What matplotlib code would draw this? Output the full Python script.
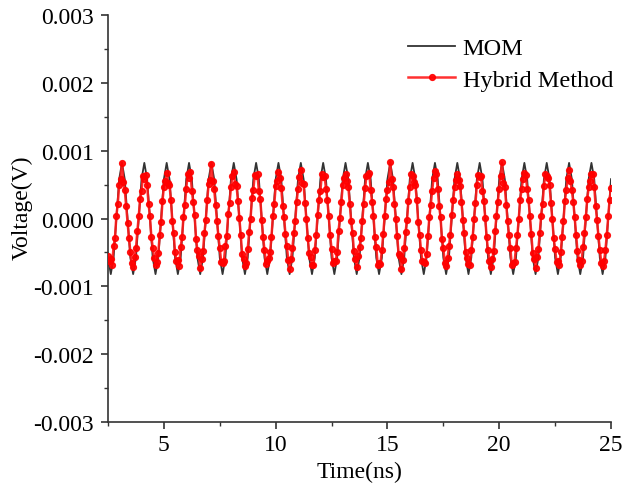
import numpy as np
import matplotlib
matplotlib.use("Agg")
import matplotlib.pyplot as plt
from matplotlib.ticker import MultipleLocator, FormatStrFormatter

plt.rcParams['font.family'] = ['Liberation Serif', 'DejaVu Serif']
plt.rcParams['axes.unicode_minus'] = False

# ---- data ----
# MOM: sampled every 0.125 ns from 2.5 ns to 25 ns (V), one row per ns
mom_v = [
    -5.8e-4, -8.2e-4, -5.8e-4, 0.0, 5.8e-4, 8.2e-4, 5.8e-4, 0.0,   # 2.5
    -5.8e-4, -8.2e-4, -5.8e-4, 0.0, 5.8e-4, 8.2e-4, 5.8e-4, 0.0,   # 3.5
    -5.8e-4, -8.2e-4, -5.8e-4, 0.0, 5.8e-4, 8.2e-4, 5.8e-4, 0.0,   # 4.5
    -5.8e-4, -8.2e-4, -5.8e-4, 0.0, 5.8e-4, 8.2e-4, 5.8e-4, 0.0,   # 5.5
    -5.8e-4, -8.2e-4, -5.8e-4, 0.0, 5.8e-4, 8.2e-4, 5.8e-4, 0.0,   # 6.5
    -5.8e-4, -8.2e-4, -5.8e-4, 0.0, 5.8e-4, 8.2e-4, 5.8e-4, 0.0,   # 7.5
    -5.8e-4, -8.2e-4, -5.8e-4, 0.0, 5.8e-4, 8.2e-4, 5.8e-4, 0.0,   # 8.5
    -5.8e-4, -8.2e-4, -5.8e-4, 0.0, 5.8e-4, 8.2e-4, 5.8e-4, 0.0,   # 9.5
    -5.8e-4, -8.2e-4, -5.8e-4, 0.0, 5.8e-4, 8.2e-4, 5.8e-4, 0.0,   # 10.5
    -5.8e-4, -8.2e-4, -5.8e-4, 0.0, 5.8e-4, 8.2e-4, 5.8e-4, 0.0,   # 11.5
    -5.8e-4, -8.2e-4, -5.8e-4, 0.0, 5.8e-4, 8.2e-4, 5.8e-4, 0.0,   # 12.5
    -5.8e-4, -8.2e-4, -5.8e-4, 0.0, 5.8e-4, 8.2e-4, 5.8e-4, 0.0,   # 13.5
    -5.8e-4, -8.2e-4, -5.8e-4, 0.0, 5.8e-4, 8.2e-4, 5.8e-4, 0.0,   # 14.5
    -5.8e-4, -8.2e-4, -5.8e-4, 0.0, 5.8e-4, 8.2e-4, 5.8e-4, 0.0,   # 15.5
    -5.8e-4, -8.2e-4, -5.8e-4, 0.0, 5.8e-4, 8.2e-4, 5.8e-4, 0.0,   # 16.5
    -5.8e-4, -8.2e-4, -5.8e-4, 0.0, 5.8e-4, 8.2e-4, 5.8e-4, 0.0,   # 17.5
    -5.8e-4, -8.2e-4, -5.8e-4, 0.0, 5.8e-4, 8.2e-4, 5.8e-4, 0.0,   # 18.5
    -5.8e-4, -8.2e-4, -5.8e-4, 0.0, 5.8e-4, 8.2e-4, 5.8e-4, 0.0,   # 19.5
    -5.8e-4, -8.2e-4, -5.8e-4, 0.0, 5.8e-4, 8.2e-4, 5.8e-4, 0.0,   # 20.5
    -5.8e-4, -8.2e-4, -5.8e-4, 0.0, 5.8e-4, 8.2e-4, 5.8e-4, 0.0,   # 21.5
    -5.8e-4, -8.2e-4, -5.8e-4, 0.0, 5.8e-4, 8.2e-4, 5.8e-4, 0.0,   # 22.5
    -5.8e-4, -8.2e-4, -5.8e-4, 0.0, 5.8e-4, 8.2e-4, 5.8e-4, 0.0,   # 23.5
    -5.8e-4, -8.2e-4, -5.8e-4, 0.0, 5.8e-4,                       # 24.5 .. 25.0
]
mom_t = np.arange(2.5, 25.0 + 1e-9, 0.125)

# Hybrid method: sampled every 0.0625 ns from 2.5 ns to 25 ns (V), one row per ns
hyb_v = [
    -5.6e-4, -6.2e-4, -5.9e-4, -6.8e-4, -4.1e-4, -2.9e-4, 0.4e-4, 2.2e-4, 4.9e-4, 5.8e-4, 8.2e-4, 5.4e-4, 4.2e-4, 1.8e-4, -0.6e-4, -2.9e-4,
    -4.9e-4, -6.6e-4, -7.2e-4, -5.7e-4, -4.4e-4, -1.9e-4, 0.3e-4, 2.9e-4, 4.1e-4, 6.3e-4, 5.8e-4, 6.4e-4, 4.9e-4, 2.2e-4, 0.4e-4, -2.7e-4,
    -4.3e-4, -5.8e-4, -6.9e-4, -6.4e-4, -5.1e-4, -2.4e-4, -0.5e-4, 2.6e-4, 4.7e-4, 5.5e-4, 6.7e-4, 5.2e-4, 5.0e-4, 2.8e-4, -0.3e-4, -2.2e-4,
    -5.0e-4, -6.3e-4, -6.1e-4, -7.0e-4, -4.2e-4, -2.8e-4, 0.2e-4, 2.0e-4, 4.4e-4, 6.6e-4, 6.0e-4, 6.9e-4, 4.1e-4, 2.4e-4, 0.5e-4, -3.0e-4,
    -4.7e-4, -5.5e-4, -7.3e-4, -5.9e-4, -4.8e-4, -2.1e-4, -0.2e-4, 2.7e-4, 5.1e-4, 5.7e-4, 8.1e-4, 5.6e-4, 4.3e-4, 2.0e-4, -0.4e-4, -2.6e-4,
    -4.4e-4, -6.4e-4, -6.6e-4, -6.2e-4, -4.0e-4, -2.6e-4, 0.6e-4, 2.3e-4, 4.6e-4, 6.2e-4, 6.9e-4, 5.1e-4, 4.8e-4, 2.6e-4, 0.1e-4, -2.4e-4,
    -5.2e-4, -5.9e-4, -7.0e-4, -6.6e-4, -4.5e-4, -2.0e-4, -0.1e-4, 3.0e-4, 4.2e-4, 6.4e-4, 6.3e-4, 6.5e-4, 4.0e-4, 2.9e-4, -0.2e-4, -2.8e-4,
    -4.6e-4, -6.7e-4, -6.3e-4, -5.8e-4, -5.0e-4, -2.7e-4, 0.3e-4, 2.1e-4, 4.8e-4, 5.6e-4, 6.8e-4, 5.9e-4, 4.5e-4, 1.9e-4, 0.2e-4, -2.3e-4,
    -4.1e-4, -6.1e-4, -7.4e-4, -6.0e-4, -4.3e-4, -2.2e-4, -0.4e-4, 2.5e-4, 4.3e-4, 6.1e-4, 7.2e-4, 5.3e-4, 5.1e-4, 2.3e-4, -0.1e-4, -2.9e-4,
    -5.1e-4, -5.7e-4, -6.8e-4, -6.9e-4, -4.6e-4, -2.5e-4, 0.5e-4, 2.8e-4, 4.0e-4, 6.5e-4, 6.1e-4, 6.2e-4, 4.4e-4, 2.7e-4, 0.3e-4, -2.5e-4,
    -4.5e-4, -6.5e-4, -6.2e-4, -6.3e-4, -4.9e-4, -1.8e-4, 0.1e-4, 2.4e-4, 4.9e-4, 5.9e-4, 6.6e-4, 5.5e-4, 4.7e-4, 2.1e-4, -0.3e-4, -2.1e-4,
    -4.8e-4, -6.0e-4, -7.1e-4, -5.6e-4, -4.2e-4, -2.9e-4, -0.3e-4, 2.2e-4, 4.5e-4, 6.3e-4, 6.4e-4, 6.7e-4, 4.2e-4, 2.5e-4, 0.4e-4, -2.7e-4,
    -4.2e-4, -6.8e-4, -6.5e-4, -6.7e-4, -4.7e-4, -2.3e-4, 0.4e-4, 2.9e-4, 4.2e-4, 5.4e-4, 8.4e-4, 5.8e-4, 4.6e-4, 2.2e-4, 0.0e-4, -2.6e-4,
    -5.3e-4, -5.6e-4, -7.5e-4, -6.1e-4, -4.4e-4, -2.0e-4, -0.2e-4, 2.6e-4, 4.7e-4, 6.6e-4, 6.2e-4, 5.4e-4, 4.9e-4, 2.8e-4, -0.5e-4, -2.4e-4,
    -4.6e-4, -6.3e-4, -6.4e-4, -6.5e-4, -5.2e-4, -2.6e-4, 0.2e-4, 2.0e-4, 4.1e-4, 6.0e-4, 7.0e-4, 6.6e-4, 4.3e-4, 1.8e-4, 0.2e-4, -3.0e-4,
    -4.3e-4, -6.6e-4, -7.0e-4, -5.8e-4, -4.1e-4, -2.4e-4, 0.5e-4, 2.7e-4, 4.6e-4, 5.7e-4, 6.5e-4, 5.7e-4, 4.8e-4, 2.4e-4, -0.2e-4, -2.2e-4,
    -5.0e-4, -5.8e-4, -6.7e-4, -6.8e-4, -4.6e-4, -2.8e-4, -0.1e-4, 2.3e-4, 5.0e-4, 6.4e-4, 6.1e-4, 6.3e-4, 4.0e-4, 2.6e-4, 0.1e-4, -2.8e-4,
    -4.7e-4, -6.2e-4, -7.2e-4, -6.0e-4, -4.8e-4, -1.9e-4, 0.3e-4, 2.5e-4, 4.4e-4, 6.2e-4, 8.3e-4, 5.2e-4, 4.6e-4, 2.0e-4, -0.4e-4, -2.5e-4,
    -4.4e-4, -6.9e-4, -6.6e-4, -6.4e-4, -4.3e-4, -2.5e-4, 0.0e-4, 2.8e-4, 4.3e-4, 5.8e-4, 6.7e-4, 6.4e-4, 4.4e-4, 2.7e-4, 0.3e-4, -2.3e-4,
    -5.1e-4, -5.9e-4, -7.3e-4, -5.7e-4, -4.5e-4, -2.2e-4, 0.4e-4, 2.1e-4, 4.8e-4, 6.5e-4, 6.3e-4, 5.9e-4, 5.0e-4, 2.3e-4, -0.1e-4, -2.9e-4,
    -4.5e-4, -6.4e-4, -6.2e-4, -6.9e-4, -5.0e-4, -2.7e-4, -0.3e-4, 2.6e-4, 4.2e-4, 6.0e-4, 7.1e-4, 5.6e-4, 4.2e-4, 2.5e-4, 0.2e-4, -2.4e-4,
    -4.8e-4, -6.1e-4, -6.9e-4, -6.2e-4, -4.2e-4, -2.1e-4, 0.2e-4, 2.9e-4, 4.6e-4, 5.6e-4, 6.6e-4, 6.5e-4, 4.7e-4, 1.9e-4, -0.2e-4, -2.6e-4,
    -4.6e-4, -6.5e-4, -7.0e-4, -6.3e-4, -4.7e-4, -2.4e-4, 0.3e-4, 2.8e-4, 4.5e-4,
]
hyb_t = np.arange(2.5, 25.0 + 1e-9, 0.0625)

assert len(mom_v) == len(mom_t), (len(mom_v), len(mom_t))
assert len(hyb_v) == len(hyb_t), (len(hyb_v), len(hyb_t))

series_labels = ["MOM", "Hybrid Method"]
x_label = "Time(ns)"
y_label = "Voltage(V)"

# ---- plot ----
FS = 17
fig = plt.figure(figsize=(6.26, 4.85), dpi=100)
ax = fig.add_axes([108/626, 1 - 423/485, (611-108)/626, (423-16)/485])

ax.plot(mom_t, mom_v, color='#333333', lw=1.3, label=series_labels[0], zorder=2)
ax.plot(hyb_t, hyb_v, color='#ff1a1a', lw=1.8, alpha=0.9, marker='o', ms=4.2,
        mec='#ff0000', mfc='#ff0000', label=series_labels[1], zorder=3)

ax.set_xlim(2.5, 25)
ax.set_ylim(-0.003, 0.003)
ax.xaxis.set_major_locator(MultipleLocator(5))
ax.xaxis.set_minor_locator(MultipleLocator(2.5))
ax.yaxis.set_major_locator(MultipleLocator(0.001))
ax.yaxis.set_minor_locator(MultipleLocator(0.0005))
ax.yaxis.set_major_formatter(FormatStrFormatter('%.3f'))

for s in ['top', 'right']:
    ax.spines[s].set_visible(False)
for s in ['left', 'bottom']:
    ax.spines[s].set_color('#333333')
    ax.spines[s].set_linewidth(1.2)

ax.tick_params(which='major', direction='out', length=5, width=1.2, color='#333333',
               labelsize=FS)
ax.tick_params(axis='y', which='major', pad=5)
ax.tick_params(axis='x', which='major', pad=4)
ax.tick_params(which='minor', direction='out', length=3, width=1.0, color='#333333')

ax.set_xlabel(x_label, fontsize=FS, labelpad=0)
ax.set_ylabel(y_label, fontsize=FS, labelpad=0)
ax.xaxis.set_label_coords(0.5, -0.095)
ax.yaxis.set_label_coords(-0.149, 0.528)

leg = ax.legend(loc='upper left', bbox_to_anchor=(408/626, 1 - 38/485),
                bbox_transform=fig.transFigure, frameon=False, fontsize=17.5,
                handlelength=1.95, handletextpad=0.3, labelspacing=0.4,
                borderpad=0, borderaxespad=0, numpoints=1)

fig.savefig('out.png', dpi=100)
